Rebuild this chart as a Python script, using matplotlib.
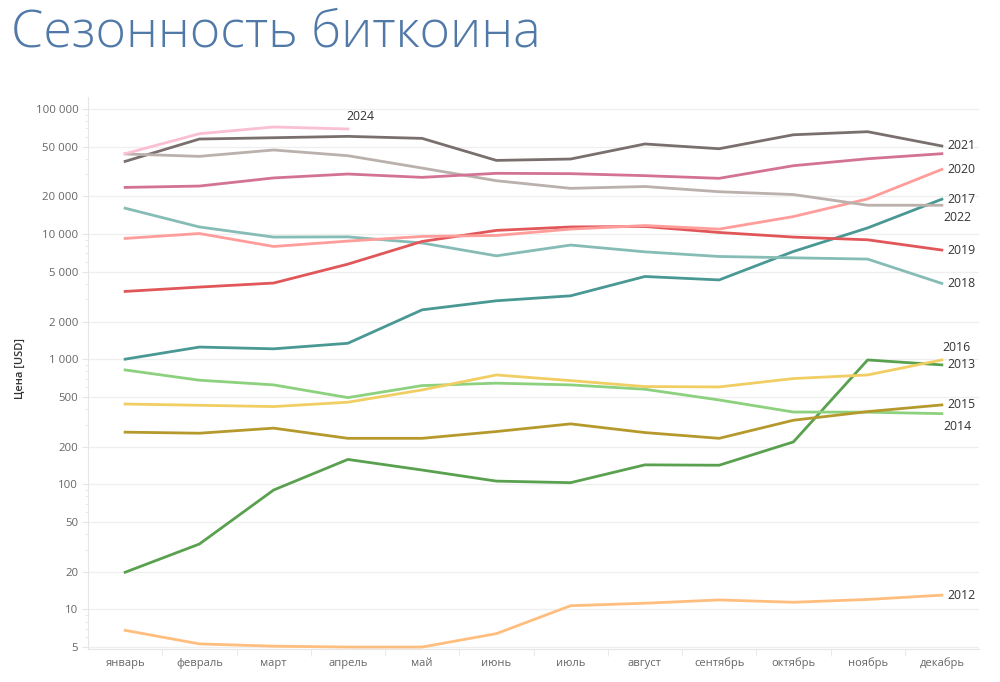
import numpy as np
import matplotlib
matplotlib.use('Agg')
import matplotlib.pyplot as plt
from matplotlib.ticker import FixedLocator, FuncFormatter, NullFormatter

plt.rcParams['font.family'] = ['Open Sans', 'DejaVu Sans']

months = ['январь', 'февраль', 'март', 'апрель', 'май', 'июнь',
          'июль', 'август', 'сентябрь', 'октябрь', 'ноябрь', 'декабрь']

# monthly BTC price, USD
y2012 = [6.8, 5.3, 5.08, 5.0, 5.0, 6.4, 10.7, 11.2, 11.9, 11.4, 12.0, 13.0]
y2013 = [19.8, 33.3, 90, 158, 130, 106, 103, 143, 142, 218, 986, 900]
y2014 = [820, 679, 623, 493, 615, 643, 623, 575, 472, 378, 377, 367]
y2015 = [261, 256, 281, 233, 233, 264, 304, 259, 233, 325, 381, 431]
y2016 = [438, 428, 418, 453, 568, 748, 674, 604, 600, 700, 748, 986]
y2017 = [1000, 1250, 1210, 1340, 2480, 2930, 3210, 4580, 4300, 7260, 11200, 19000]
y2018 = [16100, 11400, 9460, 9500, 8480, 6700, 8170, 7210, 6620, 6460, 6310, 4030]
y2019 = [3480, 3770, 4060, 5750, 8730, 10700, 11400, 11500, 10300, 9460, 9000, 7450]
y2020 = [9230, 10100, 7960, 8790, 9570, 9750, 10960, 11700, 10960, 13800, 19100, 32900]
y2021 = [38100, 57500, 58900, 60400, 58200, 38800, 39800, 52500, 48100, 62200, 65800, 50600]
y2022 = [43700, 41800, 47000, 42300, 33700, 26700, 23200, 24000, 21800, 20700, 17000, 17000]
y2023 = [23600, 24200, 28100, 30200, 28400, 30600, 30400, 29300, 27900, 35200, 40000, 43900]
y2024 = [43900, 63400, 71800, 69200]

series = [
    ('2012', y2012, '#ffbe7d'),
    ('2013', y2013, '#59a14f'),
    ('2014', y2014, '#8cd17d'),
    ('2015', y2015, '#b6992d'),
    ('2016', y2016, '#f1ce63'),
    ('2017', y2017, '#499894'),
    ('2018', y2018, '#86bcb6'),
    ('2019', y2019, '#e15759'),
    ('2020', y2020, '#ff9d9a'),
    ('2021', y2021, '#79706e'),
    ('2022', y2022, '#bab0ac'),
    ('2023', y2023, '#d37295'),
    ('2024', y2024, '#fabfd2'),
]

# end-label offsets in points (None = no label, like Tableau hides overlaps)
label_offsets = {
    '2012': (4, 0, 'left'), '2013': (4, 0, 'left'), '2014': (21, -9, 'right'),
    '2015': (4, 0, 'left'), '2016': (21, 9, 'right'), '2017': (4, 0, 'left'),
    '2018': (4, 0, 'left'), '2019': (4, 0, 'left'), '2020': (4, 0, 'left'),
    '2021': (4, 0, 'left'), '2022': (21, -9, 'right'), '2023': None,
    '2024': (-1, 9, 'left'),
}

yticks = [5, 10, 20, 50, 100, 200, 500, 1000, 2000, 5000, 10000, 20000, 50000, 100000]

fig = plt.figure(figsize=(10, 6.82), dpi=100)
ax = fig.add_axes([0.088, 0.048, 0.891, 0.81])

for name, vals, col in series:
    x = np.arange(len(vals))
    ax.plot(x, vals, color=col, lw=2.0, solid_joinstyle='round', zorder=3)
    off = label_offsets[name]
    if off is not None:
        ax.annotate(name, (x[-1], vals[-1]), xytext=(off[0], off[1]),
                    textcoords='offset points', ha=off[2], va='center',
                    fontsize=8.8, color='#333333', zorder=5)

ax.set_yscale('log')
ax.set_ylim(4.8, 125000)
ax.set_xlim(-0.5, 11.5)

ax.yaxis.set_major_locator(FixedLocator(yticks))
ax.yaxis.set_major_formatter(FuncFormatter(lambda v, _: f'{int(v):,}'.replace(',', ' ')))
ax.yaxis.set_minor_formatter(NullFormatter())
ax.tick_params(axis='y', which='major', length=4, color='#e6e6e6', labelsize=8.2,
               labelcolor='#666666', pad=3)
ax.tick_params(axis='y', which='minor', length=2, color='#e6e6e6')

ax.set_xticks(range(12))
ax.set_xticklabels(months)
ax.set_xticks(np.arange(0.5, 11, 1), minor=True)
ax.tick_params(axis='x', which='major', length=0, labelsize=8, labelcolor='#666666', pad=6)
ax.tick_params(axis='x', which='minor', length=5, color='#e6e6e6')

ax.grid(True, axis='y', which='major', color='#efefef', lw=0.9, zorder=0)
for s in ['top', 'right']:
    ax.spines[s].set_visible(False)
ax.spines['left'].set_color('#e6e6e6')
ax.spines['bottom'].set_color('#e6e6e6')

fig.text(0.011, 0.952, 'Сезонность биткоина', fontsize=37.5, color='#5179a8',
         fontweight='light', va='center', ha='left')
fig.text(0.02, 0.46, 'Цена [USD]', rotation=90, fontsize=8, color='#333333',
         fontweight='semibold', va='center', ha='center')

fig.savefig('out.png', dpi=100)
